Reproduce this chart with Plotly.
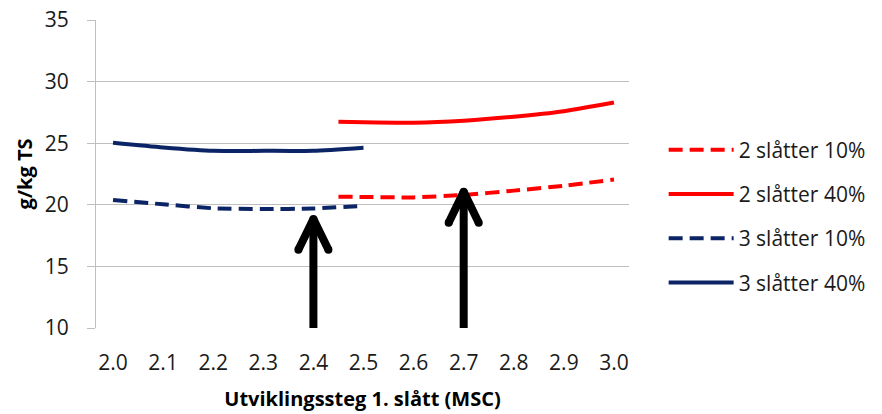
import plotly.graph_objects as go

# Development stage of first cut (MSC) and g/kg TS per scenario
x_two_cut = [2.45, 2.5, 2.6, 2.7, 2.8, 2.9, 3.0]
y_two_cut_10 = [20.66, 20.64, 20.6, 20.8, 21.15, 21.55, 22.05]
y_two_cut_40 = [26.75, 26.7, 26.67, 26.83, 27.15, 27.6, 28.3]

x_three_cut = [2.0, 2.1, 2.2, 2.3, 2.4, 2.5]
y_three_cut_10 = [20.39, 20.04, 19.72, 19.65, 19.7, 19.92]
y_three_cut_40 = [25.04, 24.66, 24.38, 24.38, 24.39, 24.64]

x_ticks = [2.0, 2.1, 2.2, 2.3, 2.4, 2.5, 2.6, 2.7, 2.8, 2.9, 3.0]
y_ticks = [10, 15, 20, 25, 30, 35]

# Arrows marking the chosen stage for each strategy
arrow_x = [2.4, 2.7]
arrow_tip = [18.85, 21.05]
arrow_base = 10
head_dx = 0.03
head_dy = 2.5

RED = "#FF0000"
NAVY = "#0B2466"
FONT = "'Open Sans', sans-serif"

fig = go.Figure()

series = [
    ("2 slåtter 10%", x_two_cut, y_two_cut_10, RED, "14px,7px"),
    ("2 slåtter 40%", x_two_cut, y_two_cut_40, RED, "solid"),
    ("3 slåtter 10%", x_three_cut, y_three_cut_10, NAVY, "14px,7px"),
    ("3 slåtter 40%", x_three_cut, y_three_cut_40, NAVY, "solid"),
]
for name, xs, ys, color, dash in series:
    fig.add_trace(go.Scatter(
        x=xs, y=ys, name=name, mode="lines", legendgroup=name,
        line=dict(color=color, width=4, dash=dash, shape="spline", smoothing=0.6),
    ))

for ax, tip in zip(arrow_x, arrow_tip):
    fig.add_trace(go.Scatter(
        x=[ax, ax], y=[arrow_base, tip], mode="lines", showlegend=False,
        hoverinfo="skip", line=dict(color="black", width=8),
    ))
    fig.add_trace(go.Scatter(
        x=[ax - head_dx, ax, ax + head_dx],
        y=[tip - head_dy, tip, tip - head_dy],
        mode="lines+markers", showlegend=False, hoverinfo="skip",
        line=dict(color="black", width=8),
        marker=dict(color="black", size=8, line=dict(width=0)),
    ))

fig.update_layout(
    width=882, height=414,
    margin=dict(l=96, r=253, t=20, b=86, autoexpand=False),
    paper_bgcolor="white", plot_bgcolor="white",
    font=dict(family=FONT, size=21, color="#1a1a1a"),
    legend=dict(
        x=1.065, y=0.362, xanchor="left", yanchor="middle",
        traceorder="grouped", tracegroupgap=14, itemwidth=65,
        font=dict(size=21, family=FONT, color="#1a1a1a"),
        bgcolor="rgba(0,0,0,0)",
    ),
    xaxis=dict(
        range=[1.966, 3.03], tickvals=x_ticks,
        ticktext=[f"{v:.1f}" for v in x_ticks],
        showgrid=False, zeroline=False, showline=False, ticks="",
        ticklabelstandoff=20, automargin=False,
        title=dict(text="<b>Utviklingssteg 1. slått (MSC)</b>", standoff=16,
                   font=dict(size=20, family=FONT, color="black")),
    ),
    yaxis=dict(
        range=[10, 35], tickvals=y_ticks,
        showgrid=True, gridcolor="#BFBFBF", gridwidth=1,
        zeroline=False, showline=True, linecolor="#BFBFBF", linewidth=1,
        ticks="outside", ticklen=8, tickcolor="#BFBFBF",
        ticklabelstandoff=14, automargin=False,
        title=dict(text="<b>g/kg TS</b>", standoff=6,
                   font=dict(size=20, family=FONT, color="black")),
    ),
)

fig.write_html("out.html")
